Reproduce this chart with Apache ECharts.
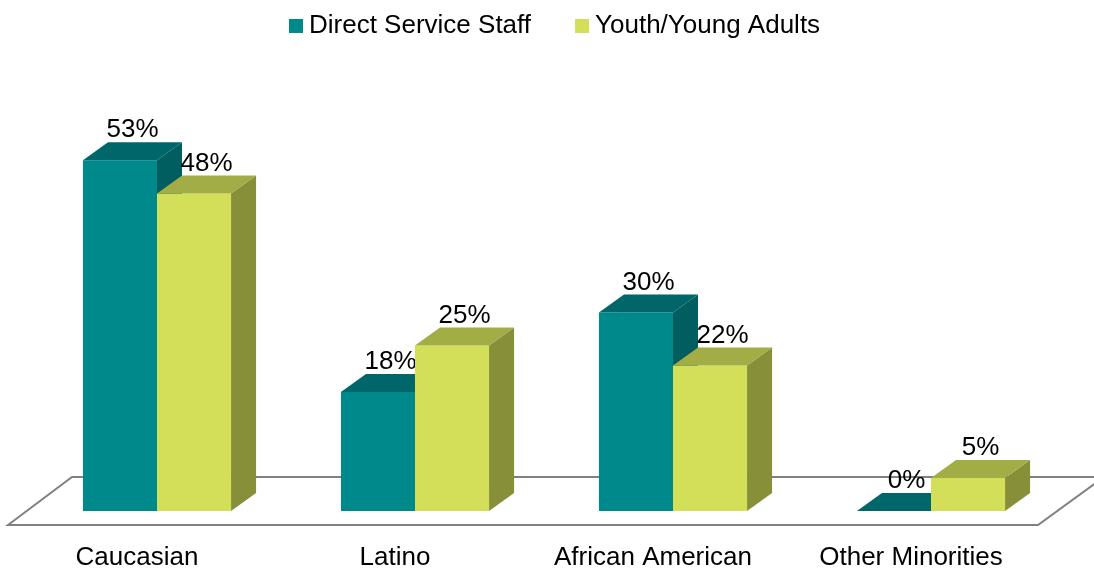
<!DOCTYPE html>
<html>
<head>
<meta charset="utf-8">
<script src="https://cdn.jsdelivr.net/npm/echarts@6/dist/echarts.min.js"></script>
<style>
  html, body { margin: 0; padding: 0; background: #fff; }
  #chart { width: 1094px; height: 571px; }
</style>
</head>
<body>
<div id="chart"></div>
<script>
// Share of each group by race / ethnicity (percent)
const categories = ['Caucasian', 'Latino', 'African American', 'Other Minorities'];
const seriesNames = ['Direct Service Staff', 'Youth/Young Adults'];
const staffValues = [53, 18, 30, 0];
const youthValues = [48, 25, 22, 5];

const FONT = '"Liberation Sans", Arial, sans-serif';

// Face colours for the extruded bars: front, top, side
const palettes = [
  { front: '#00898b', top: '#006669', side: '#005e60' },
  { front: '#d3df58', top: '#a3ad45', side: '#878f39' }
];

const BAR_RATIO = 0.287;   // bar width as a share of the category band
const DEPTH_RATIO = 0.097; // horizontal extrusion as a share of the band
const DEPTH_Y = 18;        // vertical extrusion in px

function barRenderer(seriesIdx) {
  const pal = palettes[seriesIdx];
  return function (params, api) {
    const cat = api.value(0);
    const val = api.value(1);
    const base = api.coord([cat, 0]);
    const top = api.coord([cat, val]);
    const band = api.size([1, 0])[0];
    const w = band * BAR_RATIO;
    const dx = band * DEPTH_RATIO;
    const dy = -DEPTH_Y;
    const x0 = seriesIdx === 0 ? base[0] - w : base[0];
    const x1 = x0 + w;
    const yb = base[1];
    const yt = top[1];
    const children = [];
    if (yb - yt > 0.5) {
      children.push({
        type: 'polygon',
        shape: { points: [[x1, yb], [x1 + dx, yb + dy], [x1 + dx, yt + dy], [x1, yt]] },
        style: { fill: pal.side }
      });
      children.push({
        type: 'rect',
        shape: { x: x0, y: yt, width: w, height: yb - yt },
        style: { fill: pal.front }
      });
    }
    children.push({
      type: 'polygon',
      shape: { points: [[x0, yt], [x1, yt], [x1 + dx, yt + dy], [x0 + dx, yt + dy]] },
      style: { fill: pal.top }
    });
    children.push({
      type: 'text',
      style: {
        text: val + '%',
        x: (x0 + x1) / 2 + dx / 2,
        y: yt + dy - 12,
        align: 'center',
        verticalAlign: 'middle',
        fill: '#000',
        font: '26px ' + FONT
      }
    });
    return { type: 'group', children: children };
  };
}

// Floor plane under the bars
function floorRenderer(params, api) {
  const cs = params.coordSys;
  const y0 = api.coord([0, 0])[1];
  const gx = cs.x, gw = cs.width;
  return {
    type: 'polygon',
    shape: {
      points: [
        [gx - 20, y0 + 14],
        [gx + 44, y0 - 34],
        [gx + gw + 44, y0 - 34],
        [gx + gw - 22, y0 + 14]
      ]
    },
    style: { fill: 'none', stroke: '#808080', lineWidth: 2 }
  };
}

const chart = echarts.init(document.getElementById('chart'), null, { renderer: 'canvas' });

chart.setOption({
  animation: false,
  backgroundColor: '#fff',
  legend: {
    top: 8,
    left: 284,
    itemWidth: 14,
    itemHeight: 14,
    itemGap: 44,
    icon: 'rect',
    data: seriesNames,
    textStyle: { fontSize: 26, color: '#000', fontFamily: FONT, padding: [0, 0, 0, 1] }
  },
  grid: { left: 28, right: 34, top: 114, bottom: 59 },
  xAxis: {
    type: 'category',
    data: categories,
    axisLine: { show: false },
    axisTick: { show: false },
    splitLine: { show: false },
    axisLabel: {
      fontSize: 26,
      color: '#000',
      fontFamily: FONT,
      margin: 34,
      padding: [0, 40, 0, 0]
    }
  },
  yAxis: {
    type: 'value',
    min: 0,
    max: 60,
    show: false
  },
  series: [
    {
      type: 'custom',
      name: 'floor',
      silent: true,
      z: 1,
      renderItem: floorRenderer,
      data: [[0, 0]],
      clip: false
    },
    {
      type: 'custom',
      name: seriesNames[0],
      z: 2,
      itemStyle: { color: palettes[0].front },
      renderItem: barRenderer(0),
      encode: { x: 0, y: 1 },
      data: staffValues.map((v, i) => [i, v])
    },
    {
      type: 'custom',
      name: seriesNames[1],
      z: 3,
      itemStyle: { color: palettes[1].front },
      renderItem: barRenderer(1),
      encode: { x: 0, y: 1 },
      data: youthValues.map((v, i) => [i, v])
    }
  ]
});
</script>
</body>
</html>
